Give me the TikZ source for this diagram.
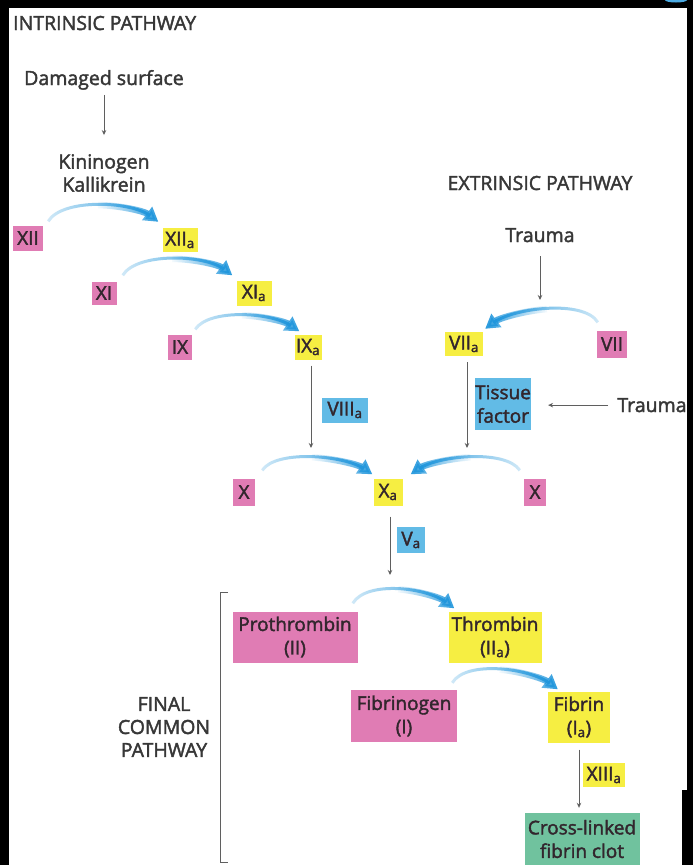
\documentclass[tikz,border=0pt]{standalone}
\usepackage{fontspec}
\setmainfont{Open Sans}[FakeBold=2]
\usetikzlibrary{arrows.meta,fadings,calc}
\definecolor{pinkbox}{RGB}{224,124,180}
\definecolor{yelbox}{RGB}{246,238,66}
\definecolor{bluebox}{RGB}{98,187,230}
\definecolor{greenbox}{RGB}{112,194,158}
\definecolor{arcblue}{RGB}{32,150,220}
\definecolor{txt}{RGB}{50,38,45}
\definecolor{headgray}{RGB}{55,55,55}
\definecolor{linegray}{RGB}{95,95,95}
\tikzfading[name=fadeE, left color=transparent!80, right color=transparent!0]
\tikzfading[name=fadeW, left color=transparent!0, right color=transparent!80]
\tikzfading[name=fadeEE, left color=transparent!100, right color=transparent!0]
\tikzfading[name=fadeWW, left color=transparent!0, right color=transparent!100]
\tikzset{
  hd/.style={inner sep=0pt, text=headgray, align=center, font=\fontsize{19.5}{23}\selectfont},
  bx/.style 2 args={minimum width=#1pt, minimum height=#2pt, inner sep=0pt, align=center,
                    text=txt, font=\fontsize{19}{23.5}\selectfont},
  pk/.style={fill=pinkbox}, yl/.style={fill=yelbox}, bl/.style={fill=bluebox}, gn/.style={fill=greenbox},
  convtail/.style={line width=3pt, draw=arcblue, shorten >=10pt},
  convhead/.style={line width=6.5pt, draw=arcblue, -{Triangle[length=14pt,width=16pt]}},
  flow/.style={draw=linegray, line width=0.9pt, -{Stealth[length=5pt,width=4.5pt]}},
  bracketline/.style={draw=linegray, line width=0.9pt}
}
\begin{document}
\begin{tikzpicture}[x=1pt,y=-1pt]
\useasboundingbox (0,0) rectangle (693,865);
% frame
\fill[black] (0,0) rectangle (693,865);
\fill[white] (9,8) rectangle (687,865);
\fill[black] (682,790) rectangle (687,865);
\fill[arcblue!80] (676,0) ellipse (11 and 2.5);

% headings and free texts
\node[hd, anchor=base west] (intr) at (13,30) {INTRINSIC PATHWAY};
\node[hd, anchor=base] (dmg) at (104,85) {Damaged surface};
\node[hd] (kin) at (104,173) {Kininogen\\Kallikrein};
\node[hd, anchor=base] (extr) at (540,190) {EXTRINSIC PATHWAY};
\node[hd, anchor=base] (tr1) at (540,242) {Trauma};
\node[hd, anchor=base] (tr2) at (652,412) {Trauma};
\node[hd] (fcp) at (164,727) {FINAL\\COMMON\\PATHWAY};

% boxes
\node[bx={30}{25},pk] (xii) at (28,238) {XII};
\node[bx={35}{24},yl] (xiia) at (180,240) {XII\textsubscript{a}};
\node[bx={25}{23},pk] (xi) at (104,293) {XI};
\node[bx={35}{25},yl] (xia) at (254,293) {XI\textsubscript{a}};
\node[bx={24}{25},pk] (ix) at (180,347) {IX};
\node[bx={27}{25},yl] (ixa) at (308,347) {IX\textsubscript{a}};
\node[bx={38}{24},yl] (viia) at (464,344) {VII\textsubscript{a}};
\node[bx={30}{27},pk] (vii) at (612,344) {VII};
\node[bx={46}{25},bl] (viiia) at (345,410) {VIII\textsubscript{a}};
\node[bx={55}{52},bl] (tf) at (503,404) {Tissue\\factor};
\node[bx={22}{27},pk] (xl) at (244,492) {X};
\node[bx={29}{27},yl] (xa) at (388,492) {X\textsubscript{a}};
\node[bx={22}{27},pk] (xr) at (535,492) {X};
\node[bx={28}{26},bl] (va) at (411,540) {V\textsubscript{a}};
\node[bx={125}{51},pk] (pro) at (295,637) {Prothrombin\\(II)};
\node[bx={93}{51},yl] (thr) at (495,637) {Thrombin\\(II\textsubscript{a})};
\node[bx={106}{52},pk] (fbg) at (404,716) {Fibrinogen\\(I)};
\node[bx={62}{51},yl] (fib) at (579,717) {Fibrin\\(I\textsubscript{a})};
\node[bx={42}{24},yl] (xiiia) at (604,775) {XIII\textsubscript{a}};
\node[bx={115}{52},gn] (clot) at (582,839) {Cross-linked\\fibrin clot};

% free ends of thin arrows
\coordinate (e1) at (311,448);
\coordinate (e2) at (540,300);
\coordinate (e3) at (467,448);
\coordinate (e4) at (390,575);

% thin arrows
\draw[flow, shorten <=5pt, shorten >=19pt] (dmg.south) -- (kin.north);
\draw[flow, shorten <=14pt] (tr1.south) -- (e2);
\draw[flow, shorten <=6pt] (ixa.south -| e1) -- (e1);
\draw[flow, shorten <=6pt] (viia.south -| e3) -- (e3);
\draw[flow, shorten <=9pt, shorten >=17pt] (tr2.west) -- (tr2.west -| tf.east);
\draw[flow, shorten <=11pt] (xa.south -| e4) -- (e4);
\draw[flow, shorten <=7pt, shorten >=5pt] (fib.south) -- (fib.south |- clot.north);

% bracket
\draw[bracketline] (228,592) -- (220,592) -- (220,862) -- (228,862);

% conversion arcs: start s, end t, controls p, q
\coordinate (s1) at ($(xii.north east)+(5,-4)$);
\coordinate (t1) at ($(xiia.north west)+(-4,-6)$);
\coordinate (s2) at ($(xi.north east)+(6,-6)$);
\coordinate (t2) at ($(xia.north west)+(-4,-5)$);
\coordinate (s3) at ($(ix.north east)+(3,-5)$);
\coordinate (t3) at ($(ixa.north west)+(5,-3)$);
\coordinate (s4) at ($(vii.north west)+(1,-8)$);
\coordinate (t4) at ($(viia.north east)+(2,-3)$);
\coordinate (s5) at ($(xl.north east)+(7,-8)$);
\coordinate (t5) at ($(xa.north west)+(-1,-4)$);
\coordinate (s6) at ($(xr.north west)+(-4,-8)$);
\coordinate (t6) at ($(xa.north east)+(8,-4)$);
\coordinate (s7) at ($(pro.north east)+(-5,-8)$);
\coordinate (t7) at ($(thr.north west)+(6,-3)$);
\coordinate (s8) at ($(fbg.north east)+(-5,-7)$);
\coordinate (t8) at ($(fib.north west)+(10,-2)$);
\foreach \i in {1,2,7,8}{
  \coordinate (p\i) at ($(s\i)+(14,-23)$);
  \coordinate (q\i) at ($(t\i)+(-28,-21)$);
}
\foreach \i in {3,5}{
  \coordinate (p\i) at ($(s\i)+(14,-21)$);
  \coordinate (q\i) at ($(t\i)+(-28,-19)$);
}
\coordinate (p4) at ($(s4)+(-14,-23)$);
\coordinate (q4) at ($(t4)+(28,-21)$);
\coordinate (p6) at ($(s6)+(-14,-21)$);
\coordinate (q6) at ($(t6)+(28,-19)$);

\foreach \i/\fa/\fb in {1/fadeE/fadeEE,2/fadeE/fadeEE,3/fadeE/fadeEE,4/fadeW/fadeWW,
                         5/fadeE/fadeEE,6/fadeW/fadeWW,7/fadeE/fadeEE,8/fadeE/fadeEE}{
  % second half of the curve, split at its midpoint
  \coordinate (m\i) at ($0.125*(s\i)+0.375*(p\i)+0.375*(q\i)+0.125*(t\i)$);
  \coordinate (r\i) at ($0.25*(p\i)+0.5*(q\i)+0.25*(t\i)$);
  \coordinate (u\i) at ($0.5*(q\i)+0.5*(t\i)$);
  \draw[convtail, path fading=\fa] (s\i) .. controls (p\i) and (q\i) .. (t\i);
  \draw[convhead, path fading=\fb] (m\i) .. controls (r\i) and (u\i) .. (t\i);
}
\end{tikzpicture}
\end{document}
